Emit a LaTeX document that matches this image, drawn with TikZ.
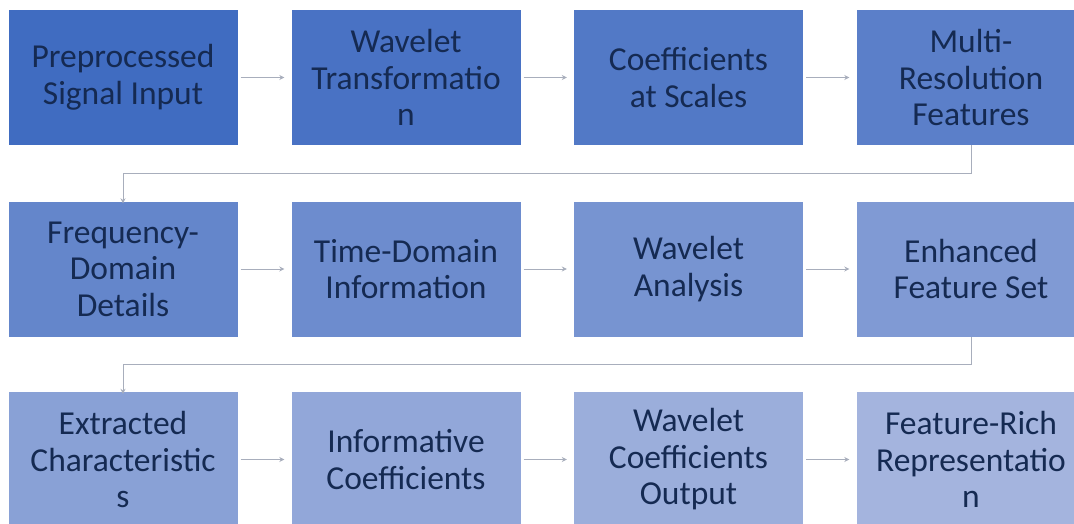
\documentclass[tikz,border=0pt]{standalone}
\usepackage{fontspec}
\setmainfont{Carlito}
\usetikzlibrary{arrows.meta,calc}
\definecolor{startc}{HTML}{406CC1}
\definecolor{endc}{HTML}{A4B4DE}
\definecolor{txt}{HTML}{152A52}
\definecolor{ln}{HTML}{A8AEBC}
\colorlet{bxa}{endc!0!startc}
\colorlet{bxb}{endc!9!startc}
\colorlet{bxc}{endc!18!startc}
\colorlet{bxd}{endc!27!startc}
\colorlet{bxe}{endc!36!startc}
\colorlet{bxf}{endc!45!startc}
\colorlet{bxg}{endc!55!startc}
\colorlet{bxh}{endc!64!startc}
\colorlet{bxi}{endc!73!startc}
\colorlet{bxj}{endc!82!startc}
\colorlet{bxk}{endc!91!startc}
\colorlet{bxl}{endc!100!startc}
\begin{document}
\begin{tikzpicture}[x=1pt,y=-1pt,
  box/.style={minimum width=229pt,minimum height=135pt,inner sep=0pt,align=center,
    text=txt,font=\fontsize{33.5}{36.5}\selectfont},
  flow/.style={draw=ln,line width=0.9pt,-{Stealth[length=5pt,width=5pt]}}]
\useasboundingbox (0,0) rectangle (1074,524);
\clip (0,0) rectangle (1074,524);
\fill[white] (0,0) rectangle (1074,524);
% row 1
\node[box,fill=bxa] (b1) at (123,77.5) {Preprocessed\\Signal Input};
\node[box,fill=bxb] (b2) at (406,77.5) {Wavelet\\Transformatio\\n};
\node[box,fill=bxc] (b3) at (688.5,77.5) {Coefficients\\at Scales};
\node[box,fill=bxd] (b4) at (971,77.5) {Multi-\\Resolution\\Features};
% row 2
\node[box,fill=bxe] (b5) at (123,269) {Frequency-\\Domain\\Details};
\node[box,fill=bxf] (b6) at (406,269) {Time-Domain\\Information};
\node[box,fill=bxg] (b7) at (688.5,269) {Wavelet\\Analysis};
\node[box,fill=bxh] (b8) at (971,269) {Enhanced\\Feature Set};
% row 3
\node[box,fill=bxi] (b9) at (123,459.5) {Extracted\\Characteristic\\s};
\node[box,fill=bxj] (b10) at (406,459.5) {Informative\\Coefficients};
\node[box,fill=bxk] (b11) at (688.5,459.5) {Wavelet\\Coefficients\\Output};
\node[box,fill=bxl] (b12) at (971,459.5) {Feature-Rich\\Representatio\\n};
% connectors
\draw[flow] ([xshift=3pt]b1.east) -- ([xshift=-7pt]b2.west);
\draw[flow] ([xshift=3pt]b2.east) -- ([xshift=-7pt]b3.west);
\draw[flow] ([xshift=3pt]b3.east) -- ([xshift=-7pt]b4.west);
\draw[flow] ([xshift=3pt]b5.east) -- ([xshift=-7pt]b6.west);
\draw[flow] ([xshift=3pt]b6.east) -- ([xshift=-7pt]b7.west);
\draw[flow] ([xshift=3pt]b7.east) -- ([xshift=-7pt]b8.west);
\draw[flow] ([xshift=3pt]b9.east) -- ([xshift=-7pt]b10.west);
\draw[flow] ([xshift=3pt]b10.east) -- ([xshift=-7pt]b11.west);
\draw[flow] ([xshift=3pt]b11.east) -- ([xshift=-7pt]b12.west);
\draw[flow] (b4.south) -- ++(0,28) -| ([yshift=-2pt]b5.north);
\draw[flow] (b8.south) -- ++(0,27.5) -| ([yshift=-2pt]b9.north);
\end{tikzpicture}
\end{document}
